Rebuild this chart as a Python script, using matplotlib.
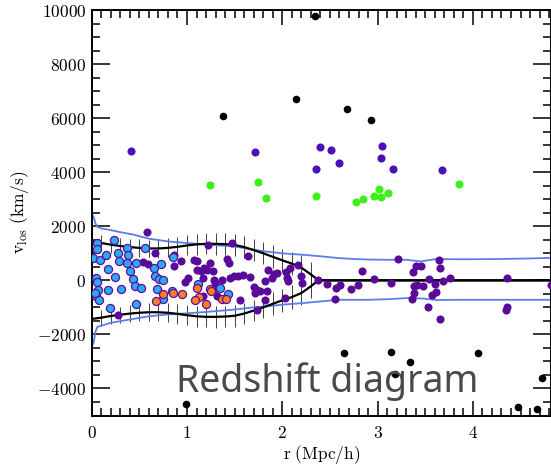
import matplotlib
matplotlib.use("Agg")
import matplotlib.pyplot as plt
import numpy as np
from matplotlib.ticker import FixedLocator, FixedFormatter, MultipleLocator

plt.rcParams['mathtext.fontset'] = 'cm'

# ---------------- data ----------------
# interlopers (black)
black_r = [2.34, 2.14, 2.68, 2.93, 1.38, 2.65, 3.14, 3.34, 3.18, 4.05, 4.725, 4.47, 4.67, 0.986]
black_v = [9780, 6717, 6337, 5941, 6078, -2699, -2648, -3006, -3449, -2685, -3597, -4695, -4755, -4558]

# high-velocity purple group
hip_r = [2.40, 2.51, 2.59, 2.35, 3.05, 3.04, 3.16, 3.68, 0.416, 1.717]
hip_v = [4943, 4820, 4326, 4130, 4955, 4510, 4130, 4093, 4770, 4758]

# green group
green_r = [1.238, 1.742, 1.826, 2.354, 2.77, 2.85, 2.96, 3.04, 3.01, 3.11, 3.85]
green_v = [3527, 3649, 3032, 3120, 2910, 3020, 3106, 3083, 3379, 3231, 3575]

# members inside caustics (purple)
mem_r = [0.58, 0.66, 0.54, 0.59, 0.28, 0.86, 0.86, 0.94, 0.98, 1.01, 1.07, 1.10, 1.10, 1.15,
         1.17, 1.18, 1.21, 1.24, 1.22, 1.27, 1.28, 1.29, 1.27, 1.31, 1.17, 1.42, 1.44, 1.47,
         1.37, 1.45, 1.49, 1.54, 1.59, 1.64, 1.66, 1.70, 1.73, 1.71, 1.77, 1.82, 1.84, 1.73,
         1.56, 1.82, 1.85, 1.94, 1.91, 1.89, 2.04, 2.05, 2.06, 2.08, 2.16, 2.20, 2.21, 2.03,
         2.38, 2.47, 2.56, 2.61, 2.72, 2.79, 2.55, 2.84, 2.96, 3.14, 3.21, 3.37, 3.40, 3.46,
         3.41, 3.48, 3.38, 3.54, 3.60, 3.64, 3.66, 3.69, 3.76, 3.38, 3.36, 3.57, 3.61, 3.53,
         3.66, 4.36, 4.36, 4.35, 4.82]
mem_v = [1788, 1011, 666, 617, -1267, 950, 543, 703, -73, 87, 740, 727, 396, 334,
         87, 457, 396, 642, 1320, 334, 26, -98, -368, -590, -590, 789, 642, 1381,
         26, 87, 149, 149, 211, 887, 124, -245, -344, -467, -405, -36, -405, -1107,
         -713, -713, 396, 273, 245, 87, 297, 87, -36, 457, 580, 174, -98, -651,
         0, -122, -282, -159, -319, -159, -676, 334, 50, -98, 789, 297, 543, 518,
         -159, -220, -196, 50, -122, 765, 457, -36, 75, -467, -689, -528, -442, -985,
         -1417, 87, -985, -1083, -159]

# cyan group
cyan_r = [0.06, 0.06, 0.01, 0.09, 0.15, 0.17, 0.23, 0.28, 0.29, 0.24, 0.05, 0.06, 0.07, 0.05,
          0.03, 0.08, 0.17, 0.19, 0.31, 0.37, 0.38, 0.37, 0.40, 0.47, 0.43, 0.45, 0.52, 0.46,
          0.56, 0.65, 0.66, 0.73, 0.71, 0.75, 0.69, 0.75, 0.85, 0.84, 1.12, 1.35, 1.43]
cyan_v = [1381, 1159, 826, 740, 950, 420, 1480, 1011, 703, 124, 75, -73, -368, -590,
          -467, -738, -368, -1020, -319, 1197, 950, 642, 334, 642, 50, -220, -282, -861,
          1197, 457, 174, 617, 50, 26, -319, -688, 863, -405, -122, -282, -491]

# orange group
orange_r = [0.68, 0.75, 0.85, 0.95, 1.11, 1.13, 1.08, 1.20, 1.24, 1.25, 1.37, 1.41]
orange_v = [-775, -491, -467, -504, -282, -615, -738, -861, -319, -405, -689, -689]

# caustic amplitude (black curves)
caus_r = [0.0, 0.1, 0.2, 0.3, 0.4, 0.5, 0.6, 0.7, 0.8, 0.9, 1.0, 1.1, 1.2, 1.3, 1.4, 1.5,
          1.6, 1.7, 1.8, 1.9, 2.0, 2.1, 2.2, 2.3, 2.38, 3.0, 4.0, 4.82]
caus_a = [1430, 1380, 1320, 1270, 1230, 1200, 1180, 1180, 1200, 1240, 1290, 1330, 1350, 1350,
          1340, 1310, 1230, 1120, 1000, 870, 740, 620, 470, 220, 0, 0, 0, 0]

# caustic uncertainty bars
err_r = [0.1, 0.2, 0.3, 0.4, 0.5, 0.6, 0.7, 0.8, 0.9, 1.0, 1.1, 1.2, 1.3, 1.4, 1.5, 1.6,
         1.7, 1.8, 1.9, 2.0, 2.1, 2.2, 2.3]
err_e = [300, 300, 300, 300, 320, 330, 340, 350, 360, 370, 380, 390, 400, 400, 400, 400,
         400, 400, 420, 430, 440, 450, 450]

# blue envelopes
bup_r = [0.0, 0.02, 0.04, 0.06, 0.1, 0.2, 0.3, 0.44, 0.6, 0.8, 1.0, 1.14, 1.3, 1.5, 1.7, 1.84,
         2.0, 2.2, 2.4, 2.6, 2.75, 2.9, 3.1, 3.3, 3.45, 3.62, 3.8, 4.0, 4.3, 4.6, 4.82]
bup_v = [2450, 2350, 2100, 1980, 1920, 1860, 1780, 1690, 1540, 1440, 1380, 1340, 1300, 1250,
         1130, 1060, 1000, 950, 890, 820, 790, 770, 760, 760, 700, 790, 780, 780, 790, 810, 830]
blo_r = [0.0, 0.02, 0.04, 0.06, 0.1, 0.2, 0.4, 0.6, 0.8, 1.0, 1.2, 1.5, 1.7, 1.87, 2.0, 2.22,
         2.4, 2.6, 2.9, 3.1, 3.34, 3.5, 3.62, 3.8, 4.2, 4.82]
blo_v = [-2450, -2300, -1900, -1720, -1680, -1570, -1450, -1330, -1260, -1220, -1170, -1080,
         -1000, -950, -900, -840, -780, -720, -720, -700, -650, -680, -730, -720, -720, -720]

xtick_vals = [0, 1, 2, 3, 4]
ytick_vals = [-4000, -2000, 0, 2000, 4000, 6000, 8000, 10000]

# ---------------- figure ----------------
W, H = 551, 467
fig = plt.figure(figsize=(W / 100, H / 100), dpi=100)
ax = fig.add_axes([91.7 / W, (H - 415.5) / H, (W - 91.7) / W, (415.5 - 10) / H])
ax.set_xlim(0, 4.82)
ax.set_ylim(-5000, 10000)

blue = '#5a7de8'
ax.plot(bup_r, bup_v, color=blue, lw=1.3, zorder=2)
ax.plot(blo_r, blo_v, color=blue, lw=1.3, zorder=2)

ca = np.array(caus_a)
ax.plot(caus_r, ca, color='black', lw=1.6, zorder=2)
ax.plot(caus_r, -ca, color='black', lw=1.6, zorder=2)

ea = np.interp(err_r, caus_r, caus_a)
ee = np.array(err_e)
ax.vlines(err_r, ea - ee, ea + ee, color='#222222', lw=0.6, zorder=1.5)
ax.vlines(err_r, -ea - ee, -ea + ee, color='#222222', lw=0.6, zorder=1.5)

ms = 34
ax.scatter(mem_r, mem_v, s=ms, color='#5a0a98', lw=0, zorder=3)
ax.scatter(hip_r, hip_v, s=ms, color='#4a10bb', lw=0, zorder=3)
ax.scatter(green_r, green_v, s=ms, color='#3ef01a', lw=0, zorder=3)
ax.scatter(black_r, black_v, s=30, color='black', lw=0, zorder=3)
ax.scatter(cyan_r, cyan_v, s=ms, facecolor='#2aaaf0', edgecolor='#5a109a', lw=0.9, zorder=4)
ax.scatter(orange_r, orange_v, s=ms, facecolor='#ff7a22', edgecolor='#5a109a', lw=0.9, zorder=4)

# ticks
ax.xaxis.set_major_locator(FixedLocator(xtick_vals))
ax.xaxis.set_major_formatter(FixedFormatter(['$%d$' % v for v in xtick_vals]))
ax.yaxis.set_major_locator(FixedLocator(ytick_vals))
ax.yaxis.set_major_formatter(FixedFormatter(['$%d$' % v for v in ytick_vals]))
ax.xaxis.set_minor_locator(MultipleLocator(0.1))
ax.yaxis.set_minor_locator(MultipleLocator(500))
ax.tick_params(axis='both', which='both', direction='in', top=True, right=True,
               width=1.1, colors='black', labelsize=12.5)
ax.tick_params(axis='x', which='major', length=11, pad=6)
ax.tick_params(axis='y', which='major', length=13, pad=4)
ax.tick_params(axis='both', which='minor', length=6)
for sp in ax.spines.values():
    sp.set_linewidth(1.4)

ax.set_xlabel(r'$\mathrm{r\ (Mpc/h)}$', fontsize=12.5, labelpad=1)
ax.set_ylabel(r'$\mathrm{v_{los}\ (km/s)}$', fontsize=12.5, labelpad=4)

fig.text(176 / W, (H - 391.7) / H, 'Redshift diagram', fontsize=27, color='#4a4a4a',
         family='Noto Sans', ha='left', va='baseline', zorder=5)

fig.savefig('out.png', dpi=100)
